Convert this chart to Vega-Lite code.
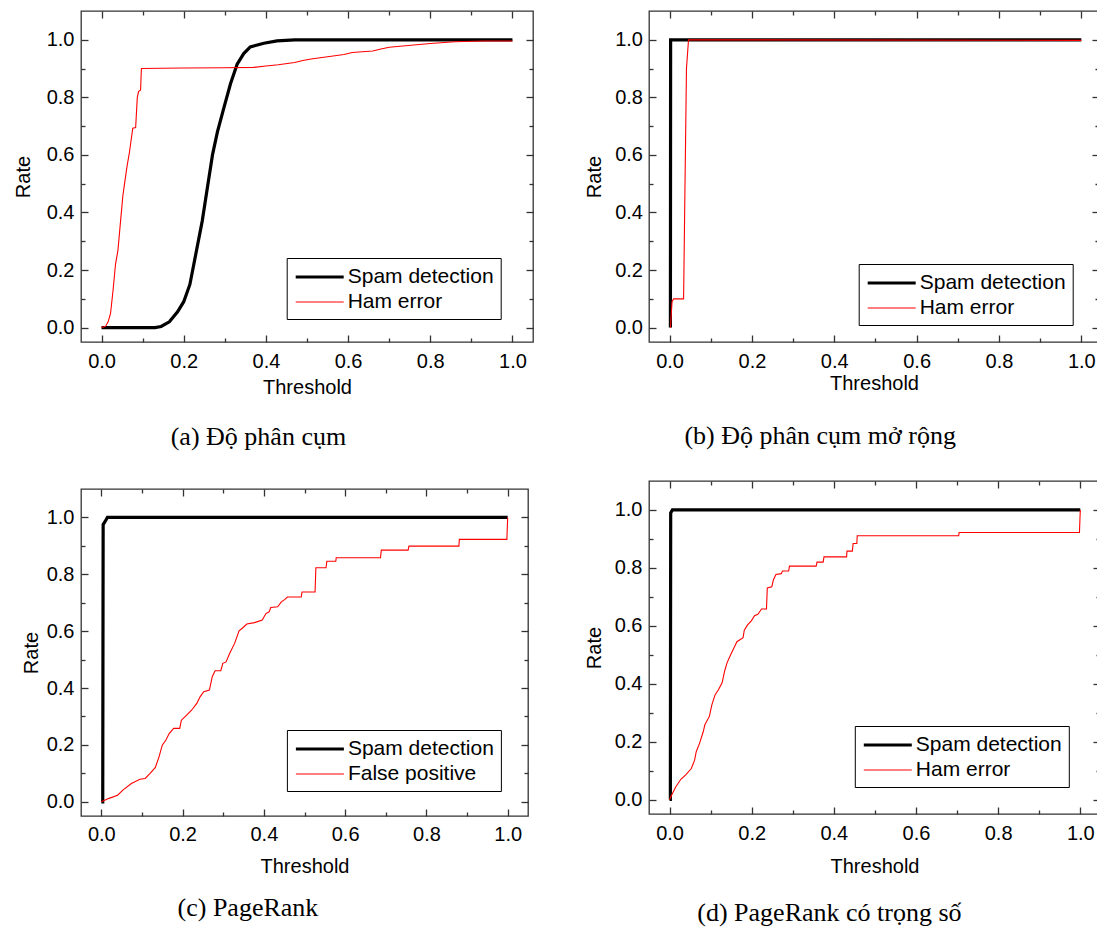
{
  "$schema": "https://vega.github.io/schema/vega-lite/v6.json",
  "padding": {"left": 12, "top": 9, "right": 0, "bottom": 0},
  "config": {
    "view": {"stroke": "#333333", "strokeWidth": 1.3},
    "axis": {"labelFont": "Liberation Sans", "labelFontSize": 20, "labelColor": "#000000", "titleFont": "Liberation Sans", "titleFontSize": 20, "titleFontWeight": "normal", "titleColor": "#000000", "grid": false, "domain": false, "labelFlush": false, "tickColor": "#333333", "tickWidth": 1.3},
    "legend": {"title": null, "orient": "none", "symbolType": "M-2.4,0H2.4", "symbolSize": 400, "symbolOffset": 14, "labelOffset": 16, "strokeColor": "#000000", "padding": 7, "rowPadding": 4, "labelFont": "Liberation Sans", "labelFontSize": 21, "labelColor": "#000000"},
    "title": {"orient": "bottom", "font": "Liberation Serif", "fontSize": 26, "fontWeight": "normal", "color": "#000000", "anchor": "middle", "frame": "bounds"}
  },
  "datasets": {
    "a": [
      {"t": 0, "rate": 0, "series": "Spam detection"},
      {"t": 0.13, "rate": 0, "series": "Spam detection"},
      {"t": 0.145, "rate": 0.004, "series": "Spam detection"},
      {"t": 0.165, "rate": 0.02, "series": "Spam detection"},
      {"t": 0.185, "rate": 0.055, "series": "Spam detection"},
      {"t": 0.2, "rate": 0.09, "series": "Spam detection"},
      {"t": 0.215, "rate": 0.15, "series": "Spam detection"},
      {"t": 0.23, "rate": 0.26, "series": "Spam detection"},
      {"t": 0.245, "rate": 0.37, "series": "Spam detection"},
      {"t": 0.258, "rate": 0.49, "series": "Spam detection"},
      {"t": 0.27, "rate": 0.6, "series": "Spam detection"},
      {"t": 0.282, "rate": 0.68, "series": "Spam detection"},
      {"t": 0.298, "rate": 0.765, "series": "Spam detection"},
      {"t": 0.314, "rate": 0.848, "series": "Spam detection"},
      {"t": 0.33, "rate": 0.915, "series": "Spam detection"},
      {"t": 0.346, "rate": 0.952, "series": "Spam detection"},
      {"t": 0.362, "rate": 0.975, "series": "Spam detection"},
      {"t": 0.395, "rate": 0.988, "series": "Spam detection"},
      {"t": 0.427, "rate": 0.996, "series": "Spam detection"},
      {"t": 0.47, "rate": 1.0, "series": "Spam detection"},
      {"t": 1.0, "rate": 1.0, "series": "Spam detection"},
      {"t": 0, "rate": 0, "series": "Ham error"},
      {"t": 0.01, "rate": 0.005, "series": "Ham error"},
      {"t": 0.016, "rate": 0.02, "series": "Ham error"},
      {"t": 0.022, "rate": 0.05, "series": "Ham error"},
      {"t": 0.028, "rate": 0.13, "series": "Ham error"},
      {"t": 0.034, "rate": 0.22, "series": "Ham error"},
      {"t": 0.04, "rate": 0.27, "series": "Ham error"},
      {"t": 0.045, "rate": 0.35, "series": "Ham error"},
      {"t": 0.052, "rate": 0.46, "series": "Ham error"},
      {"t": 0.056, "rate": 0.5, "series": "Ham error"},
      {"t": 0.062, "rate": 0.56, "series": "Ham error"},
      {"t": 0.068, "rate": 0.61, "series": "Ham error"},
      {"t": 0.076, "rate": 0.693, "series": "Ham error"},
      {"t": 0.083, "rate": 0.695, "series": "Ham error"},
      {"t": 0.087, "rate": 0.8, "series": "Ham error"},
      {"t": 0.09, "rate": 0.82, "series": "Ham error"},
      {"t": 0.095, "rate": 0.826, "series": "Ham error"},
      {"t": 0.097, "rate": 0.9, "series": "Ham error"},
      {"t": 0.2, "rate": 0.902, "series": "Ham error"},
      {"t": 0.3, "rate": 0.903, "series": "Ham error"},
      {"t": 0.37, "rate": 0.904, "series": "Ham error"},
      {"t": 0.4, "rate": 0.909, "series": "Ham error"},
      {"t": 0.43, "rate": 0.913, "series": "Ham error"},
      {"t": 0.47, "rate": 0.921, "series": "Ham error"},
      {"t": 0.49, "rate": 0.928, "series": "Ham error"},
      {"t": 0.51, "rate": 0.933, "series": "Ham error"},
      {"t": 0.55, "rate": 0.941, "series": "Ham error"},
      {"t": 0.59, "rate": 0.949, "series": "Ham error"},
      {"t": 0.61, "rate": 0.956, "series": "Ham error"},
      {"t": 0.66, "rate": 0.961, "series": "Ham error"},
      {"t": 0.68, "rate": 0.968, "series": "Ham error"},
      {"t": 0.7, "rate": 0.974, "series": "Ham error"},
      {"t": 0.76, "rate": 0.982, "series": "Ham error"},
      {"t": 0.8, "rate": 0.987, "series": "Ham error"},
      {"t": 0.86, "rate": 0.993, "series": "Ham error"},
      {"t": 0.93, "rate": 0.996, "series": "Ham error"},
      {"t": 1.0, "rate": 0.996, "series": "Ham error"}
    ],
    "b": [
      {"t": 0.002, "rate": 0, "series": "Spam detection"},
      {"t": 0.0025, "rate": 1.0, "series": "Spam detection"},
      {"t": 1.0, "rate": 1.0, "series": "Spam detection"},
      {"t": 0.002, "rate": 0, "series": "Ham error"},
      {"t": 0.006, "rate": 0.09, "series": "Ham error"},
      {"t": 0.01, "rate": 0.1, "series": "Ham error"},
      {"t": 0.034, "rate": 0.1, "series": "Ham error"},
      {"t": 0.041, "rate": 0.9, "series": "Ham error"},
      {"t": 0.046, "rate": 1.0, "series": "Ham error"},
      {"t": 1.0, "rate": 0.998, "series": "Ham error"}
    ],
    "c": [
      {"t": 0, "rate": 0, "series": "Spam detection"},
      {"t": 0.0035, "rate": 0, "series": "Spam detection"},
      {"t": 0.0045, "rate": 0.975, "series": "Spam detection"},
      {"t": 0.009, "rate": 0.985, "series": "Spam detection"},
      {"t": 0.015, "rate": 1.0, "series": "Spam detection"},
      {"t": 1.0, "rate": 1.0, "series": "Spam detection"},
      {"t": 0, "rate": 0, "series": "False positive"},
      {"t": 0.019, "rate": 0.012, "series": "False positive"},
      {"t": 0.04, "rate": 0.023, "series": "False positive"},
      {"t": 0.053, "rate": 0.041, "series": "False positive"},
      {"t": 0.074, "rate": 0.064, "series": "False positive"},
      {"t": 0.095, "rate": 0.079, "series": "False positive"},
      {"t": 0.108, "rate": 0.082, "series": "False positive"},
      {"t": 0.12, "rate": 0.1, "series": "False positive"},
      {"t": 0.133, "rate": 0.121, "series": "False positive"},
      {"t": 0.142, "rate": 0.158, "series": "False positive"},
      {"t": 0.15, "rate": 0.199, "series": "False positive"},
      {"t": 0.159, "rate": 0.217, "series": "False positive"},
      {"t": 0.167, "rate": 0.24, "series": "False positive"},
      {"t": 0.178, "rate": 0.258, "series": "False positive"},
      {"t": 0.193, "rate": 0.258, "series": "False positive"},
      {"t": 0.197, "rate": 0.287, "series": "False positive"},
      {"t": 0.21, "rate": 0.305, "series": "False positive"},
      {"t": 0.222, "rate": 0.322, "series": "False positive"},
      {"t": 0.235, "rate": 0.346, "series": "False positive"},
      {"t": 0.243, "rate": 0.369, "series": "False positive"},
      {"t": 0.252, "rate": 0.387, "series": "False positive"},
      {"t": 0.266, "rate": 0.393, "series": "False positive"},
      {"t": 0.273, "rate": 0.44, "series": "False positive"},
      {"t": 0.28, "rate": 0.461, "series": "False positive"},
      {"t": 0.294, "rate": 0.461, "series": "False positive"},
      {"t": 0.299, "rate": 0.487, "series": "False positive"},
      {"t": 0.307, "rate": 0.492, "series": "False positive"},
      {"t": 0.316, "rate": 0.522, "series": "False positive"},
      {"t": 0.328, "rate": 0.557, "series": "False positive"},
      {"t": 0.339, "rate": 0.601, "series": "False positive"},
      {"t": 0.349, "rate": 0.613, "series": "False positive"},
      {"t": 0.358, "rate": 0.625, "series": "False positive"},
      {"t": 0.377, "rate": 0.63, "series": "False positive"},
      {"t": 0.396, "rate": 0.639, "series": "False positive"},
      {"t": 0.405, "rate": 0.662, "series": "False positive"},
      {"t": 0.413, "rate": 0.668, "series": "False positive"},
      {"t": 0.417, "rate": 0.683, "series": "False positive"},
      {"t": 0.434, "rate": 0.686, "series": "False positive"},
      {"t": 0.443, "rate": 0.703, "series": "False positive"},
      {"t": 0.451, "rate": 0.711, "series": "False positive"},
      {"t": 0.458, "rate": 0.72, "series": "False positive"},
      {"t": 0.492, "rate": 0.72, "series": "False positive"},
      {"t": 0.494, "rate": 0.738, "series": "False positive"},
      {"t": 0.526, "rate": 0.738, "series": "False positive"},
      {"t": 0.528, "rate": 0.823, "series": "False positive"},
      {"t": 0.553, "rate": 0.823, "series": "False positive"},
      {"t": 0.555, "rate": 0.846, "series": "False positive"},
      {"t": 0.577, "rate": 0.846, "series": "False positive"},
      {"t": 0.578, "rate": 0.858, "series": "False positive"},
      {"t": 0.687, "rate": 0.858, "series": "False positive"},
      {"t": 0.689, "rate": 0.885, "series": "False positive"},
      {"t": 0.755, "rate": 0.885, "series": "False positive"},
      {"t": 0.757, "rate": 0.899, "series": "False positive"},
      {"t": 0.88, "rate": 0.899, "series": "False positive"},
      {"t": 0.881, "rate": 0.923, "series": "False positive"},
      {"t": 0.998, "rate": 0.923, "series": "False positive"},
      {"t": 1.0, "rate": 1.0, "series": "False positive"}
    ],
    "d": [
      {"t": 0, "rate": 0, "series": "Spam detection"},
      {"t": 0.002, "rate": 0, "series": "Spam detection"},
      {"t": 0.0028, "rate": 0.99, "series": "Spam detection"},
      {"t": 0.007, "rate": 1.0, "series": "Spam detection"},
      {"t": 1.0, "rate": 1.0, "series": "Spam detection"},
      {"t": 0, "rate": 0, "series": "Ham error"},
      {"t": 0.0067, "rate": 0.02, "series": "Ham error"},
      {"t": 0.015, "rate": 0.043, "series": "Ham error"},
      {"t": 0.0275, "rate": 0.07, "series": "Ham error"},
      {"t": 0.04, "rate": 0.086, "series": "Ham error"},
      {"t": 0.053, "rate": 0.107, "series": "Ham error"},
      {"t": 0.061, "rate": 0.136, "series": "Ham error"},
      {"t": 0.065, "rate": 0.165, "series": "Ham error"},
      {"t": 0.073, "rate": 0.194, "series": "Ham error"},
      {"t": 0.082, "rate": 0.234, "series": "Ham error"},
      {"t": 0.086, "rate": 0.258, "series": "Ham error"},
      {"t": 0.097, "rate": 0.287, "series": "Ham error"},
      {"t": 0.103, "rate": 0.327, "series": "Ham error"},
      {"t": 0.111, "rate": 0.362, "series": "Ham error"},
      {"t": 0.119, "rate": 0.379, "series": "Ham error"},
      {"t": 0.128, "rate": 0.403, "series": "Ham error"},
      {"t": 0.134, "rate": 0.443, "series": "Ham error"},
      {"t": 0.14, "rate": 0.472, "series": "Ham error"},
      {"t": 0.149, "rate": 0.501, "series": "Ham error"},
      {"t": 0.157, "rate": 0.524, "series": "Ham error"},
      {"t": 0.164, "rate": 0.545, "series": "Ham error"},
      {"t": 0.179, "rate": 0.559, "series": "Ham error"},
      {"t": 0.182, "rate": 0.585, "series": "Ham error"},
      {"t": 0.19, "rate": 0.603, "series": "Ham error"},
      {"t": 0.199, "rate": 0.617, "series": "Ham error"},
      {"t": 0.207, "rate": 0.635, "series": "Ham error"},
      {"t": 0.215, "rate": 0.64, "series": "Ham error"},
      {"t": 0.224, "rate": 0.658, "series": "Ham error"},
      {"t": 0.236, "rate": 0.658, "series": "Ham error"},
      {"t": 0.238, "rate": 0.731, "series": "Ham error"},
      {"t": 0.249, "rate": 0.735, "series": "Ham error"},
      {"t": 0.253, "rate": 0.759, "series": "Ham error"},
      {"t": 0.259, "rate": 0.777, "series": "Ham error"},
      {"t": 0.272, "rate": 0.78, "series": "Ham error"},
      {"t": 0.275, "rate": 0.789, "series": "Ham error"},
      {"t": 0.29, "rate": 0.789, "series": "Ham error"},
      {"t": 0.292, "rate": 0.806, "series": "Ham error"},
      {"t": 0.357, "rate": 0.806, "series": "Ham error"},
      {"t": 0.359, "rate": 0.82, "series": "Ham error"},
      {"t": 0.374, "rate": 0.82, "series": "Ham error"},
      {"t": 0.376, "rate": 0.838, "series": "Ham error"},
      {"t": 0.431, "rate": 0.838, "series": "Ham error"},
      {"t": 0.432, "rate": 0.858, "series": "Ham error"},
      {"t": 0.445, "rate": 0.858, "series": "Ham error"},
      {"t": 0.447, "rate": 0.884, "series": "Ham error"},
      {"t": 0.456, "rate": 0.884, "series": "Ham error"},
      {"t": 0.457, "rate": 0.911, "series": "Ham error"},
      {"t": 0.704, "rate": 0.911, "series": "Ham error"},
      {"t": 0.705, "rate": 0.922, "series": "Ham error"},
      {"t": 0.998, "rate": 0.922, "series": "Ham error"},
      {"t": 1.0, "rate": 1.0, "series": "Ham error"}
    ]
  },
  "hconcat": [
    {
      "spacing": 36,
      "resolve": {"scale": {"color": "independent", "strokeWidth": "independent"}, "legend": {"color": "independent", "strokeWidth": "independent"}},
      "vconcat": [
        {
          "width": 452, "height": 331,
          "title": {"text": "(a) Độ phân cụm", "dx": -15, "offset": 27},
          "data": {"name": "a"},
          "resolve": {"axis": {"x": "independent", "y": "independent"}},
          "layer": [
            {
              "mark": {"type": "line"},
              "encoding": {
                "x": {"field": "t", "type": "quantitative", "scale": {"domain": [-0.05, 1.05], "nice": false, "zero": false}, "axis": {"orient": "bottom", "title": "Threshold", "values": [0, 0.2, 0.4, 0.6, 0.8, 1], "format": ".1f", "ticks": false, "labelPadding": 9, "titlePadding": 6}},
                "y": {"field": "rate", "type": "quantitative", "scale": {"domain": [-0.05, 1.1], "nice": false, "zero": false}, "axis": {"orient": "left", "title": "Rate", "values": [0, 0.2, 0.4, 0.6, 0.8, 1], "format": ".1f", "ticks": false, "labelPadding": 7, "titlePadding": 13}},
                "color": {"field": "series", "type": "nominal", "scale": {"domain": ["Spam detection", "Ham error"], "range": ["#000000", "#ff0000"]}, "legend": {"legendX": 205.7, "legendY": 247}},
                "strokeWidth": {"field": "series", "type": "nominal", "scale": {"domain": ["Spam detection", "Ham error"], "range": [3.2, 1.1]}, "legend": {"legendX": 205.7, "legendY": 247}}
              }
            },
            {
              "mark": {"type": "point", "opacity": 0},
              "encoding": {
                "x": {"field": "t", "type": "quantitative", "scale": {"domain": [-0.05, 1.05], "nice": false, "zero": false}, "axis": {"orient": "bottom", "title": null, "labels": false, "values": [0, 0.1, 0.2, 0.3, 0.4, 0.5, 0.6, 0.7, 0.8, 0.9, 1], "tickSize": {"condition": {"test": "round(datum.value*10)%2===0", "value": -7}, "value": -4}}},
                "y": {"field": "rate", "type": "quantitative", "scale": {"domain": [-0.05, 1.1], "nice": false, "zero": false}, "axis": {"orient": "left", "title": null, "labels": false, "values": [0, 0.1, 0.2, 0.3, 0.4, 0.5, 0.6, 0.7, 0.8, 0.9, 1], "tickSize": {"condition": {"test": "round(datum.value*10)%2===0", "value": -7}, "value": -4}}}
              }
            },
            {
              "mark": {"type": "point", "opacity": 0},
              "encoding": {
                "x": {"field": "t", "type": "quantitative", "scale": {"domain": [-0.05, 1.05], "nice": false, "zero": false}, "axis": {"orient": "top", "title": null, "labels": false, "values": [0, 0.1, 0.2, 0.3, 0.4, 0.5, 0.6, 0.7, 0.8, 0.9, 1], "tickSize": {"condition": {"test": "round(datum.value*10)%2===0", "value": -7}, "value": -4}}},
                "y": {"field": "rate", "type": "quantitative", "scale": {"domain": [-0.05, 1.1], "nice": false, "zero": false}, "axis": {"orient": "right", "title": null, "labels": false, "values": [0, 0.1, 0.2, 0.3, 0.4, 0.5, 0.6, 0.7, 0.8, 0.9, 1], "tickSize": {"condition": {"test": "round(datum.value*10)%2===0", "value": -7}, "value": -4}}}
              }
            }
          ]
        },
        {
          "width": 447, "height": 327,
          "title": {"text": "(c) PageRank", "dx": -27, "offset": 18},
          "data": {"name": "c"},
          "resolve": {"axis": {"x": "independent", "y": "independent"}},
          "layer": [
            {
              "mark": {"type": "line"},
              "encoding": {
                "x": {"field": "t", "type": "quantitative", "scale": {"domain": [-0.05, 1.05], "nice": false, "zero": false}, "axis": {"orient": "bottom", "title": "Threshold", "values": [0, 0.2, 0.4, 0.6, 0.8, 1], "format": ".1f", "ticks": false, "labelPadding": 8.5, "titlePadding": 12}},
                "y": {"field": "rate", "type": "quantitative", "scale": {"domain": [-0.05, 1.1], "nice": false, "zero": false}, "axis": {"orient": "left", "title": "Rate", "values": [0, 0.2, 0.4, 0.6, 0.8, 1], "format": ".1f", "ticks": false, "labelPadding": 7, "titlePadding": 5}},
                "color": {"field": "series", "type": "nominal", "scale": {"domain": ["Spam detection", "False positive"], "range": ["#000000", "#ff0000"]}, "legend": {"legendX": 205.9, "legendY": 241}},
                "strokeWidth": {"field": "series", "type": "nominal", "scale": {"domain": ["Spam detection", "False positive"], "range": [3.2, 1.1]}, "legend": {"legendX": 205.9, "legendY": 241}}
              }
            },
            {
              "mark": {"type": "point", "opacity": 0},
              "encoding": {
                "x": {"field": "t", "type": "quantitative", "scale": {"domain": [-0.05, 1.05], "nice": false, "zero": false}, "axis": {"orient": "bottom", "title": null, "labels": false, "values": [0, 0.1, 0.2, 0.3, 0.4, 0.5, 0.6, 0.7, 0.8, 0.9, 1], "tickSize": {"condition": {"test": "round(datum.value*10)%2===0", "value": -7}, "value": -4}}},
                "y": {"field": "rate", "type": "quantitative", "scale": {"domain": [-0.05, 1.1], "nice": false, "zero": false}, "axis": {"orient": "left", "title": null, "labels": false, "values": [0, 0.1, 0.2, 0.3, 0.4, 0.5, 0.6, 0.7, 0.8, 0.9, 1], "tickSize": {"condition": {"test": "round(datum.value*10)%2===0", "value": -7}, "value": -4}}}
              }
            },
            {
              "mark": {"type": "point", "opacity": 0},
              "encoding": {
                "x": {"field": "t", "type": "quantitative", "scale": {"domain": [-0.05, 1.05], "nice": false, "zero": false}, "axis": {"orient": "top", "title": null, "labels": false, "values": [0, 0.1, 0.2, 0.3, 0.4, 0.5, 0.6, 0.7, 0.8, 0.9, 1], "tickSize": {"condition": {"test": "round(datum.value*10)%2===0", "value": -7}, "value": -4}}},
                "y": {"field": "rate", "type": "quantitative", "scale": {"domain": [-0.05, 1.1], "nice": false, "zero": false}, "axis": {"orient": "right", "title": null, "labels": false, "values": [0, 0.1, 0.2, 0.3, 0.4, 0.5, 0.6, 0.7, 0.8, 0.9, 1], "tickSize": {"condition": {"test": "round(datum.value*10)%2===0", "value": -7}, "value": -4}}}
              }
            }
          ]
        }
      ]
    },
    {
      "spacing": 29,
      "resolve": {"scale": {"color": "independent", "strokeWidth": "independent"}, "legend": {"color": "independent", "strokeWidth": "independent"}},
      "vconcat": [
        {
          "width": 450, "height": 331,
          "title": {"text": "(b) Độ phân cụm mở rộng", "dx": -22, "offset": 30},
          "data": {"name": "b"},
          "resolve": {"axis": {"x": "independent", "y": "independent"}},
          "layer": [
            {
              "mark": {"type": "line"},
              "encoding": {
                "x": {"field": "t", "type": "quantitative", "scale": {"domain": [-0.05, 1.043], "nice": false, "zero": false}, "axis": {"orient": "bottom", "title": "Threshold", "values": [0, 0.2, 0.4, 0.6, 0.8, 1], "format": ".1f", "ticks": false, "labelPadding": 9, "titlePadding": 2}},
                "y": {"field": "rate", "type": "quantitative", "scale": {"domain": [-0.05, 1.1], "nice": false, "zero": false}, "axis": {"orient": "left", "title": "Rate", "values": [0, 0.2, 0.4, 0.6, 0.8, 1], "format": ".1f", "ticks": false, "labelPadding": 6.5, "titlePadding": 10}},
                "color": {"field": "series", "type": "nominal", "scale": {"domain": ["Spam detection", "Ham error"], "range": ["#000000", "#ff0000"]}, "legend": {"legendX": 209.7, "legendY": 253}},
                "strokeWidth": {"field": "series", "type": "nominal", "scale": {"domain": ["Spam detection", "Ham error"], "range": [3.2, 1.1]}, "legend": {"legendX": 209.7, "legendY": 253}}
              }
            },
            {
              "mark": {"type": "point", "opacity": 0},
              "encoding": {
                "x": {"field": "t", "type": "quantitative", "scale": {"domain": [-0.05, 1.043], "nice": false, "zero": false}, "axis": {"orient": "bottom", "title": null, "labels": false, "values": [0, 0.1, 0.2, 0.3, 0.4, 0.5, 0.6, 0.7, 0.8, 0.9, 1], "tickSize": {"condition": {"test": "round(datum.value*10)%2===0", "value": -7}, "value": -4}}},
                "y": {"field": "rate", "type": "quantitative", "scale": {"domain": [-0.05, 1.1], "nice": false, "zero": false}, "axis": {"orient": "left", "title": null, "labels": false, "values": [0, 0.1, 0.2, 0.3, 0.4, 0.5, 0.6, 0.7, 0.8, 0.9, 1], "tickSize": {"condition": {"test": "round(datum.value*10)%2===0", "value": -7}, "value": -4}}}
              }
            },
            {
              "mark": {"type": "point", "opacity": 0},
              "encoding": {
                "x": {"field": "t", "type": "quantitative", "scale": {"domain": [-0.05, 1.043], "nice": false, "zero": false}, "axis": {"orient": "top", "title": null, "labels": false, "values": [0, 0.1, 0.2, 0.3, 0.4, 0.5, 0.6, 0.7, 0.8, 0.9, 1], "tickSize": {"condition": {"test": "round(datum.value*10)%2===0", "value": -7}, "value": -4}}},
                "y": {"field": "rate", "type": "quantitative", "scale": {"domain": [-0.05, 1.1], "nice": false, "zero": false}, "axis": {"orient": "right", "title": null, "labels": false, "values": [0, 0.1, 0.2, 0.3, 0.4, 0.5, 0.6, 0.7, 0.8, 0.9, 1], "tickSize": {"condition": {"test": "round(datum.value*10)%2===0", "value": -7}, "value": -4}}}
              }
            }
          ]
        },
        {
          "width": 451, "height": 333,
          "title": {"text": "(d) PageRank có trọng số", "dx": -13, "offset": 24},
          "data": {"name": "d"},
          "resolve": {"axis": {"x": "independent", "y": "independent"}},
          "layer": [
            {
              "mark": {"type": "line"},
              "encoding": {
                "x": {"field": "t", "type": "quantitative", "scale": {"domain": [-0.05, 1.048], "nice": false, "zero": false}, "axis": {"orient": "bottom", "title": "Threshold", "values": [0, 0.2, 0.4, 0.6, 0.8, 1], "format": ".1f", "ticks": false, "labelPadding": 9.4, "titlePadding": 13}},
                "y": {"field": "rate", "type": "quantitative", "scale": {"domain": [-0.05, 1.1], "nice": false, "zero": false}, "axis": {"orient": "left", "title": "Rate", "values": [0, 0.2, 0.4, 0.6, 0.8, 1], "format": ".1f", "ticks": false, "labelPadding": 7, "titlePadding": 10}},
                "color": {"field": "series", "type": "nominal", "scale": {"domain": ["Spam detection", "Ham error"], "range": ["#000000", "#ff0000"]}, "legend": {"legendX": 205.8, "legendY": 245}},
                "strokeWidth": {"field": "series", "type": "nominal", "scale": {"domain": ["Spam detection", "Ham error"], "range": [3.2, 1.1]}, "legend": {"legendX": 205.8, "legendY": 245}}
              }
            },
            {
              "mark": {"type": "point", "opacity": 0},
              "encoding": {
                "x": {"field": "t", "type": "quantitative", "scale": {"domain": [-0.05, 1.048], "nice": false, "zero": false}, "axis": {"orient": "bottom", "title": null, "labels": false, "values": [0, 0.1, 0.2, 0.3, 0.4, 0.5, 0.6, 0.7, 0.8, 0.9, 1], "tickSize": {"condition": {"test": "round(datum.value*10)%2===0", "value": -7}, "value": -4}}},
                "y": {"field": "rate", "type": "quantitative", "scale": {"domain": [-0.05, 1.1], "nice": false, "zero": false}, "axis": {"orient": "left", "title": null, "labels": false, "values": [0, 0.1, 0.2, 0.3, 0.4, 0.5, 0.6, 0.7, 0.8, 0.9, 1], "tickSize": {"condition": {"test": "round(datum.value*10)%2===0", "value": -7}, "value": -4}}}
              }
            },
            {
              "mark": {"type": "point", "opacity": 0},
              "encoding": {
                "x": {"field": "t", "type": "quantitative", "scale": {"domain": [-0.05, 1.048], "nice": false, "zero": false}, "axis": {"orient": "top", "title": null, "labels": false, "values": [0, 0.1, 0.2, 0.3, 0.4, 0.5, 0.6, 0.7, 0.8, 0.9, 1], "tickSize": {"condition": {"test": "round(datum.value*10)%2===0", "value": -7}, "value": -4}}},
                "y": {"field": "rate", "type": "quantitative", "scale": {"domain": [-0.05, 1.1], "nice": false, "zero": false}, "axis": {"orient": "right", "title": null, "labels": false, "values": [0, 0.1, 0.2, 0.3, 0.4, 0.5, 0.6, 0.7, 0.8, 0.9, 1], "tickSize": {"condition": {"test": "round(datum.value*10)%2===0", "value": -7}, "value": -4}}}
              }
            }
          ]
        }
      ]
    }
  ],
  "spacing": 48,
  "resolve": {"scale": {"color": "independent", "strokeWidth": "independent"}, "legend": {"color": "independent", "strokeWidth": "independent"}}
}
